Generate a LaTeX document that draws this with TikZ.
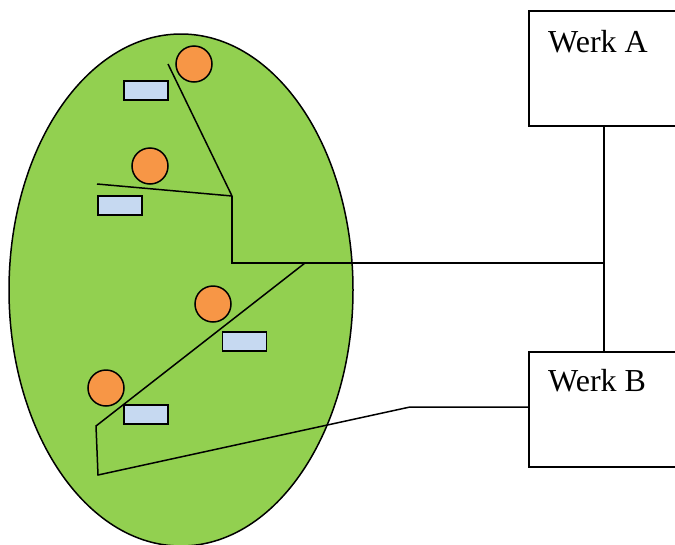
\documentclass[tikz,border=0pt]{standalone}
\usepackage{fontspec}
\setmainfont{Liberation Serif}
\definecolor{fieldgreen}{HTML}{92D050}
\definecolor{siteorange}{HTML}{F79646}
\definecolor{sitecyan}{HTML}{C6D9F1}
\begin{document}
\begin{tikzpicture}[x=1pt,y=-1pt,
  line/.style={draw=black,line width=1.5pt},
  pump/.style={circle,draw=black,line width=1.5pt,fill=siteorange,minimum size=36pt,inner sep=0pt},
  tank/.style={rectangle,draw=black,line width=1.5pt,fill=sitecyan,minimum width=44pt,minimum height=19pt,inner sep=0pt},
  plant/.style={rectangle,draw=black,line width=1.5pt,fill=white,minimum width=160pt,minimum height=115pt,anchor=north west,inner sep=0pt},
  plantlabel/.style={anchor=north west,font=\fontsize{32}{36}\selectfont,inner sep=0pt}]
\useasboundingbox (0,0) rectangle (675,544);
\clip (0,0) rectangle (675,544);

% the field
\draw[line width=1.5pt,fill=fieldgreen] (181,290) ellipse [x radius=172pt, y radius=256pt];

% plants
\node[plant] (werkA) at (528,10) {};
\node[plantlabel] (labA) at (548,30) {Werk A};
\node[plant] (werkB) at (528,351) {};
\node[plantlabel] (labB) at (548,369) {Werk B};

% junction points of the pipe network
\coordinate (hub) at (604,263);
\coordinate (bend) at (232,196);
\coordinate (corner) at (232,263);
\coordinate (split) at (305,263);
\coordinate (e1) at (168,64);
\coordinate (e2) at (97,184);
\coordinate (s1) at (96,426);
\coordinate (s2) at (98,475);
\coordinate (s3) at (410,407);

% pipes
\draw[line] (e1) -- (bend);
\draw[line] (e2) -- (bend);
\draw[line] (bend) -- (corner) -- (hub);
\draw[line] (hub |- werkA.south) -- (hub |- werkB.north);
\draw[line] (split) -- (s1) -- (s2) -- (s3) -- (s3 -| werkB.west);

% wells and tanks
\node[pump] (p1) at (194,64) {};
\node[pump] (p2) at (150,166) {};
\node[pump] (p3) at (213,304) {};
\node[pump] (p4) at (106,388) {};
\node[tank] (t1) at (146,90.5) {};
\node[tank] (t2) at (120,205.5) {};
\node[tank] (t3) at (244.5,341.5) {};
\node[tank] (t4) at (146,414.5) {};
\end{tikzpicture}
\end{document}
